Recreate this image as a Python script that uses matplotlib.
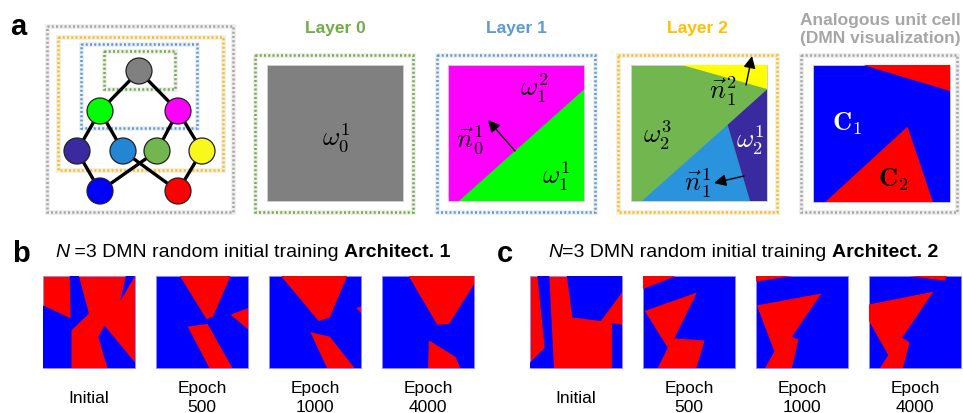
import matplotlib.pyplot as plt
from matplotlib.patches import Rectangle, Polygon, Circle

plt.rcParams['font.family'] = ['Liberation Sans', 'DejaVu Sans']

RED = '#ff0000'
BLUE = '#0000ff'
GRAY = '#808080'
LGREEN = '#00ff00'
MAGENTA = '#ff00ff'
PURPLE = '#3a2aa0'
SKY = '#2a93de'
OLIVE = '#72b650'
YELLOW = '#ffff00'

# ---- DMN tree (panel a, left) ----
node_x = [139, 100, 178, 77, 123, 157, 202, 100, 178]
node_y = [72, 112, 112, 152, 152, 152, 152, 192, 192]
node_colors = [GRAY, LGREEN, MAGENTA, PURPLE, '#2386d4', OLIVE, '#f8f81c', BLUE, RED]
edges = [(0, 1), (0, 2), (1, 3), (1, 4), (2, 5), (2, 6), (3, 7), (4, 8), (5, 7), (6, 8)]

# ---- partition regions, unit square, v measured from the top ----
layer1_regions = [(LGREEN, [(0.08, 1), (1, 0.18), (1, 1)])]
layer2_regions = [
    (YELLOW, [(0.375, 0), (1, 0), (1, 0.18)]),
    (SKY, [(0.08, 1), (0.71, 0.44), (0.875, 1)]),
    (PURPLE, [(0.71, 0.44), (1, 0.18), (1, 1), (0.875, 1)]),
]
cell_regions = [
    (RED, [(0.365, 0), (1, 0), (1, 0.19)]),
    (RED, [(0.09, 1), (0.69, 0.45), (0.875, 1)]),
]

# ---- Architect. 1 training snapshots ----
arch1_initial = (RED, BLUE, [
    [(0, 0.32), (0.30, 0.46), (0.29, 0), (0.39, 0), (0.50, 0.41), (0.31, 0.59), (0.31, 1), (0, 1)],
    [(0.90, 0), (1, 0), (0.84, 0.27)],
    [(0.67, 0.54), (1, 0.94), (1, 1), (0.70, 1), (0.60, 0.66)],
])
arch1_e500 = (BLUE, RED, [
    [(0.26, 0), (0.81, 0), (0.62, 0.44), (0.55, 0.47)],
    [(1, 0.35), (0.81, 0.42), (1, 0.58)],
    [(0.345, 0.55), (0.56, 0.52), (0.83, 1), (0.58, 1)],
])
arch1_e1000 = (BLUE, RED, [
    [(0.13, 0), (0.85, 0), (0.66, 0.45), (0.54, 0.49)],
    [(1, 0.33), (0.95, 0.35), (1, 0.40)],
    [(0.45, 0.61), (0.66, 0.66), (0.93, 1), (0.63, 1)],
])
arch1_e4000 = (BLUE, RED, [
    [(0.29, 0), (1, 0), (1, 0.09), (0.73, 0.52), (0.60, 0.53)],
    [(0.51, 0.70), (0.80, 0.88), (0.85, 1), (0.50, 1)],
])

# ---- Architect. 2 training snapshots ----
arch2_initial = (RED, BLUE, [
    [(0.08, 0), (0.21, 0), (0.26, 1), (0, 1), (0, 0.94), (0.16, 0.78)],
    [(0.40, 0), (1, 0), (1, 0.18), (0.77, 0.49), (0.46, 0.45)],
    [(0.89, 0.51), (1, 0.53), (1, 1), (0.89, 1)],
])
arch2_e500 = (BLUE, RED, [
    [(0, 0), (0.36, 0), (0, 0.14)],
    [(0.02, 0.38), (0.585, 0.18), (0.34, 0.68), (0.67, 0.70), (0.58, 1), (0.16, 1), (0.27, 0.78)],
])
arch2_e1000 = (BLUE, RED, [
    [(0, 0), (0.40, 0), (0, 0.06)],
    [(0.01, 0.32), (0.71, 0.19), (0.39, 0.66), (0.46, 0.69), (0.39, 1), (0.10, 1), (0.20, 0.82)],
])
arch2_e4000 = (BLUE, RED, [
    [(0.43, 0), (0.85, 0), (0.82, 0.05)],
    [(0, 0.31), (0.70, 0.17), (0.36, 0.67), (0.44, 0.72), (0.37, 1), (0.12, 1),
     (0.21, 0.86), (0, 0.49)],
])

arch1_panels = [arch1_initial, arch1_e500, arch1_e1000, arch1_e4000]
arch2_panels = [arch2_initial, arch2_e500, arch2_e1000, arch2_e4000]
snapshot_labels = ['Initial', '500', '1000', '4000']

fig = plt.figure(figsize=(9.63, 4.14), dpi=100)
ax = fig.add_axes([0, 0, 1, 1])
ax.set_xlim(0, 963)
ax.set_ylim(414, 0)
ax.axis('off')


def dotted_box(x0, y0, x1, y1, color):
    ax.add_patch(Rectangle((x0, y0), x1 - x0, y1 - y0, fill=False,
                           edgecolor='#eeeeee', linewidth=3.5, zorder=1))
    ax.add_patch(Rectangle((x0, y0), x1 - x0, y1 - y0, fill=False,
                           edgecolor=color, linewidth=1.8, linestyle=(0, (0.8, 0.9)),
                           zorder=2))


def region_square(x0, y0, size, background, regions, edge='#d0d0d0'):
    ax.add_patch(Rectangle((x0, y0), size, size, facecolor=background,
                           edgecolor=edge, linewidth=0.6, zorder=3))
    for color, pts in regions:
        ax.add_patch(Polygon([(x0 + u * size, y0 + v * size) for u, v in pts],
                             closed=True, facecolor=color, edgecolor='none', zorder=4))


def math_label(x, y, s, color='black', size=19):
    ax.text(x, y, s, fontsize=size, color=color, ha='center', va='center',
            math_fontfamily='cm', zorder=6)


def arrow(x0, y0, x1, y1):
    ax.annotate('', xy=(x1, y1), xytext=(x0, y0), zorder=6,
                arrowprops=dict(arrowstyle='-|>', color='black', lw=1.0,
                                mutation_scale=18, shrinkA=0, shrinkB=0))


# ---- panel a ----
ax.text(10, 35, 'a', fontsize=21, fontweight='bold', ha='left', va='baseline')

dotted_box(47, 27, 233, 213, '#a6a6a6')
dotted_box(58, 38, 223, 171, '#ffc000')
dotted_box(81, 45, 197, 129, '#5b9bd5')
dotted_box(104, 52, 175, 90, '#70ad47')
for i, j in edges:
    ax.plot([node_x[i], node_x[j]], [node_y[i], node_y[j]], color='black', lw=2.4,
            zorder=4, solid_capstyle='butt')
for x, y, c in zip(node_x, node_y, node_colors):
    ax.add_patch(Circle((x, y), 13, facecolor=c, edgecolor='#222222', linewidth=0.9, zorder=5))

# Layer 0
ax.text(335, 33, 'Layer 0', fontsize=12.5, fontweight='bold', color='#70ad47',
        ha='center', va='baseline')
dotted_box(255, 56, 413, 213, '#70ad47')
region_square(267, 66, 136, GRAY, [])
math_label(336, 138, r'$\omega_0^1$')

# Layer 1
ax.text(516, 33, 'Layer 1', fontsize=12.5, fontweight='bold', color='#5b9bd5',
        ha='center', va='baseline')
dotted_box(437, 56, 595, 213, '#5b9bd5')
region_square(448, 66, 136, MAGENTA, layer1_regions)
math_label(534, 88, r'$\omega_1^2$')
math_label(556, 176, r'$\omega_1^1$')
math_label(470, 140, r'$\vec{n}_0^1$')
arrow(515, 152, 488, 121)

# Layer 2
ax.text(697, 33, 'Layer 2', fontsize=12.5, fontweight='bold', color='#ffc000',
        ha='center', va='baseline')
dotted_box(618, 56, 777, 213, '#ffc000')
region_square(631, 66, 136, OLIVE, layer2_regions)
math_label(723, 91, r'$\vec{n}_1^2$')
math_label(657, 135, r'$\omega_2^3$')
math_label(750, 140, r'$\omega_2^1$', color='white')
math_label(697, 183, r'$\vec{n}_1^1$')
arrow(746, 86, 752, 57)
arrow(744, 177, 714, 184)

# Analogous unit cell
ax.text(880, 25, 'Analogous unit cell', fontsize=12.5, fontweight='bold', color='#a6a6a6',
        ha='center', va='baseline')
ax.text(880, 43, '(DMN visualization)', fontsize=12.5, fontweight='bold', color='#a6a6a6',
        ha='center', va='baseline')
dotted_box(801, 56, 957, 213, '#a6a6a6')
region_square(813, 66, 137, BLUE, cell_regions)
math_label(847, 124, r'$\mathbf{C}_1$', color='white')
math_label(893, 180, r'$\mathbf{C}_2$')


# ---- panels b and c ----
def title_line(x, pieces):
    # pieces are (text, style, weight) drawn one after another on a common baseline
    prev = None
    for s, style, weight in pieces:
        if prev is None:
            prev = ax.text(x, 257, s, fontsize=14, fontstyle=style, fontweight=weight,
                           ha='left', va='baseline')
        else:
            prev = ax.annotate(s, xy=(1, 0), xycoords=prev, fontsize=14, fontstyle=style,
                               fontweight=weight, ha='left', va='bottom')


def training_row(letter, lx, tx, pieces, sq_x, panels):
    ax.text(lx, 262, letter, fontsize=21, fontweight='bold', ha='left', va='baseline')
    title_line(tx, pieces)
    for x0, (bg, fg, polys), lab in zip(sq_x, panels, snapshot_labels):
        region_square(x0, 277, 92, bg, [(fg, p) for p in polys], edge='#8c8cff')
        cx = x0 + 46
        if lab == 'Initial':
            ax.text(cx, 403, lab, fontsize=12.5, ha='center', va='baseline')
        else:
            ax.text(cx, 393, 'Epoch', fontsize=12.5, ha='center', va='baseline')
            ax.text(cx, 412, lab, fontsize=12.5, ha='center', va='baseline')


training_row('b', 12, 55,
             [('N', 'italic', 'normal'), (' =3 DMN random initial training ', 'normal', 'normal'),
              ('Architect. 1', 'normal', 'bold')],
             [43, 156, 269, 382], arch1_panels)
training_row('c', 497, 548,
             [('N', 'italic', 'normal'), ('=3 DMN random initial training ', 'normal', 'normal'),
              ('Architect. 2', 'normal', 'bold')],
             [530, 643, 756, 869], arch2_panels)

fig.savefig('out.png', dpi=100, facecolor='white')
